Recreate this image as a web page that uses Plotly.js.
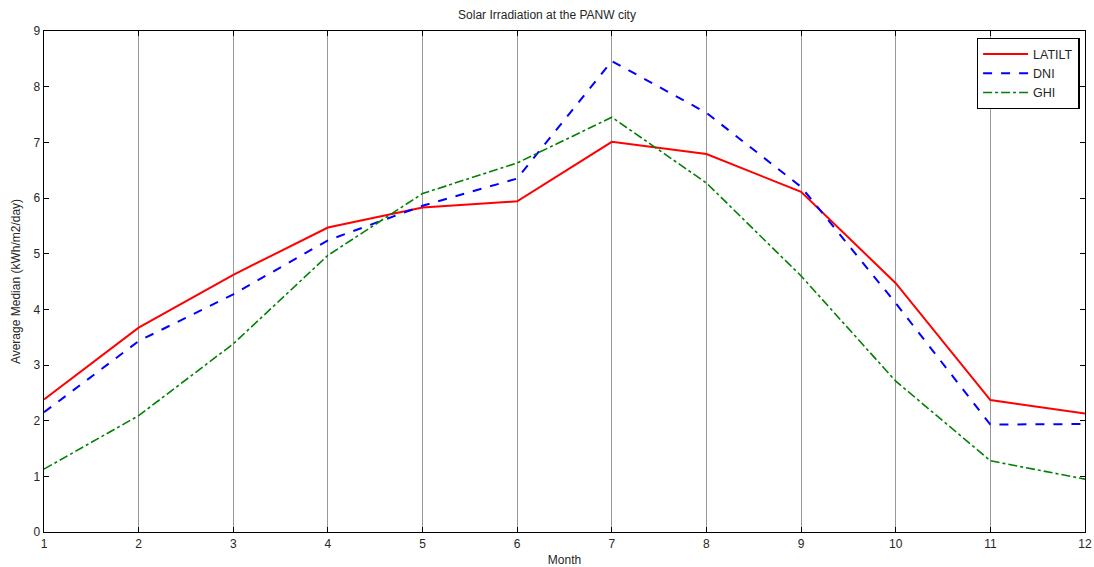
<!DOCTYPE html>
<html>
<head>
<meta charset="utf-8">
<script src="https://cdn.plot.ly/plotly-3.0.1.min.js"></script>
<style>html,body{margin:0;padding:0;background:#fff;}#chart{width:1094px;height:567px;}</style>
</head>
<body>
<div id="chart"></div>
<script>
const months = [1,2,3,4,5,6,7,8,9,10,11,12];
const latilt = [2.38,3.67,4.62,5.47,5.83,5.94,7.01,6.79,6.11,4.47,2.37,2.13];
const dni    = [2.15,3.43,4.27,5.24,5.86,6.35,8.46,7.53,6.20,4.11,1.93,1.94];
const ghi    = [1.13,2.09,3.38,4.97,6.08,6.63,7.45,6.27,4.60,2.71,1.28,0.95];

const traces = [
  {x: months, y: latilt, name: 'LATILT', type: 'scatter', mode: 'lines',
   line: {color: '#ff0000', width: 2}},
  {x: months, y: dni, name: 'DNI', type: 'scatter', mode: 'lines',
   line: {color: '#0000ff', width: 2, dash: 'dash'}},
  {x: months, y: ghi, name: 'GHI', type: 'scatter', mode: 'lines',
   line: {color: '#008000', width: 1.6, dash: 'dashdot'}}
];

const font = {family: 'Liberation Sans, Arial, sans-serif', color: '#262626'};

const layout = {
  width: 1094, height: 567,
  margin: {l: 43.5, r: 9, t: 31, b: 35},
  paper_bgcolor: '#fff', plot_bgcolor: '#fff',
  font: Object.assign({size: 12}, font),
  title: {text: 'Solar Irradiation at the PANW city', x: 0.5, xanchor: 'center',
          y: 1 - 15/567, yanchor: 'middle', font: Object.assign({size: 12}, font)},
  showlegend: true,
  legend: {x: 0.995, xanchor: 'right', y: 0.986, yanchor: 'top',
           bgcolor: '#fff', bordercolor: '#000', borderwidth: 1.3,
           font: Object.assign({size: 12.5}, font), tracegroupgap: 0, itemwidth: 45},
  xaxis: {
    range: [1, 12], tickvals: months, ticktext: months.map(String),
    ticks: 'inside', ticklen: 5, tickcolor: '#000', tickwidth: 1,
    showline: true, linecolor: '#000', linewidth: 1.3, mirror: 'ticks',
    showgrid: true, gridcolor: '#999', gridwidth: 1, zeroline: false,
    tickfont: Object.assign({size: 12}, font),
    title: {text: 'Month', font: Object.assign({size: 12}, font), standoff: 9}
  },
  yaxis: {
    range: [0, 9], dtick: 1, tick0: 0,
    ticks: 'inside', ticklen: 5, tickcolor: '#000', tickwidth: 1,
    showline: true, linecolor: '#000', linewidth: 1.3, mirror: 'ticks',
    showgrid: false, zeroline: false,
    tickfont: Object.assign({size: 12}, font),
    title: {text: 'Average Median (kWh/m2/day)', font: Object.assign({size: 12}, font), standoff: 10}
  }
};

Plotly.newPlot('chart', traces, layout, {displayModeBar: false, staticPlot: true});
</script>
</body>
</html>
